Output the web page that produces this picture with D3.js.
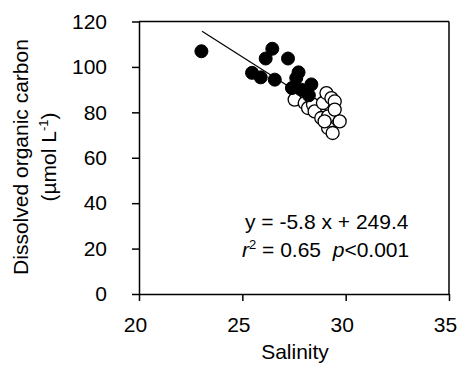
<!DOCTYPE html>
<html><head><meta charset="utf-8">
<script src="https://cdn.jsdelivr.net/npm/d3@7"></script>
<style>
body{margin:0;background:#fff;}
text{font-family:"Liberation Sans",Arial,sans-serif;fill:#000;}
</style></head>
<body><svg id="c" width="460" height="365"></svg>
<script>
const filledSalinity = [23.02, 26.45, 26.13, 27.21, 25.47, 25.89, 26.57, 27.72, 27.61, 27.40, 28.34, 28.22, 27.85];
const filledDOC      = [106.9, 108.0, 103.7, 103.7, 97.4, 95.4, 94.4, 97.6, 95.1, 90.7, 92.3, 87.5, 90.0];
const openSalinity = [27.53, 28.02, 28.18, 28.42, 28.50, 28.82, 28.90, 29.07, 29.31, 29.47, 29.15, 29.47, 29.71, 29.15, 29.37, 28.98];
const openDOC      = [85.6, 84.1, 81.9, 83.4, 80.4, 77.5, 84.1, 88.5, 86.3, 84.8, 78.2, 81.2, 76.0, 73.1, 70.9, 76.0];
const xTicks = [20, 25, 30, 35];
const yTicks = [0, 20, 40, 60, 80, 100, 120];
const slope = -5.8, intercept = 249.4;
const fitRange = [23.05, 29.7];

const svg = d3.select("#c");
const x = d3.scaleLinear().domain([20, 35]).range([139, 449]);
const y = d3.scaleLinear().domain([0, 120]).range([294, 21.5]);

// frame top & right
svg.append("line").attr("x1", x(20)).attr("x2", x(35)).attr("y1", y(120)).attr("y2", y(120)).attr("stroke", "#000").attr("stroke-width", 1.5);
svg.append("line").attr("x1", x(35)).attr("x2", x(35)).attr("y1", y(120)).attr("y2", y(0)).attr("stroke", "#000").attr("stroke-width", 1.5);

const xa = svg.append("g").attr("transform", `translate(0,${y(0)})`)
  .call(d3.axisBottom(x).tickValues(xTicks).tickSize(7).tickSizeOuter(0).tickPadding(16).tickFormat(d3.format("d")));
const ya = svg.append("g").attr("transform", `translate(${x(20)},0)`)
  .call(d3.axisLeft(y).tickValues(yTicks).tickSize(7).tickSizeOuter(0).tickPadding(25).tickFormat(d3.format("d")));
[xa, ya].forEach(g => {
  g.selectAll("path,line").attr("stroke", "#000").attr("stroke-width", 1.5);
  g.selectAll("text").attr("font-size", 21).attr("font-family", "Liberation Sans, Arial, sans-serif").attr("fill", "#000");
});
xa.selectAll("text").attr("dx", -4);

// fit line
svg.append("line")
  .attr("x1", x(fitRange[0])).attr("y1", y(slope * fitRange[0] + intercept))
  .attr("x2", x(fitRange[1])).attr("y2", y(slope * fitRange[1] + intercept))
  .attr("stroke", "#000").attr("stroke-width", 1.2);

// open points
svg.append("g").selectAll("circle").data(openSalinity.map((s, i) => [s, openDOC[i]])).join("circle")
  .attr("cx", d => x(d[0])).attr("cy", d => y(d[1])).attr("r", 6.5)
  .attr("fill", "#fff").attr("stroke", "#000").attr("stroke-width", 1.3);
// filled points
svg.append("g").selectAll("circle").data(filledSalinity.map((s, i) => [s, filledDOC[i]])).join("circle")
  .attr("cx", d => x(d[0])).attr("cy", d => y(d[1])).attr("r", 6.5)
  .attr("fill", "#000").attr("stroke", "#000").attr("stroke-width", 1);

// axis titles
svg.append("text").attr("x", 295).attr("y", 359).attr("text-anchor", "middle").attr("font-size", 21).text("Salinity");
const yt = svg.append("text").attr("transform", "translate(0,157) rotate(-90)").attr("text-anchor", "middle").attr("font-size", 21);
yt.append("tspan").attr("x", 0).attr("y", 28).text("Dissolved organic carbon");
const t2 = yt.append("tspan").attr("x", 0).attr("y", 56);
t2.append("tspan").text("(µmol L");
t2.append("tspan").attr("font-size", 13).attr("dy", -8).text("-1");
t2.append("tspan").attr("dy", 8).text(")");

// equation
svg.append("text").attr("x", 245).attr("y", 229).attr("font-size", 21).text("y = -5.8 x + 249.4");
const eq2 = svg.append("text").attr("x", 242).attr("y", 257).attr("font-size", 21);
eq2.append("tspan").attr("font-style", "italic").text("r");
eq2.append("tspan").attr("font-size", 13).attr("dy", -8).text("2");
eq2.append("tspan").attr("dy", 8).text(" = 0.65\u00a0\u00a0");
eq2.append("tspan").attr("font-style", "italic").text("p");
eq2.append("tspan").text("<0.001");
</script></body></html>
